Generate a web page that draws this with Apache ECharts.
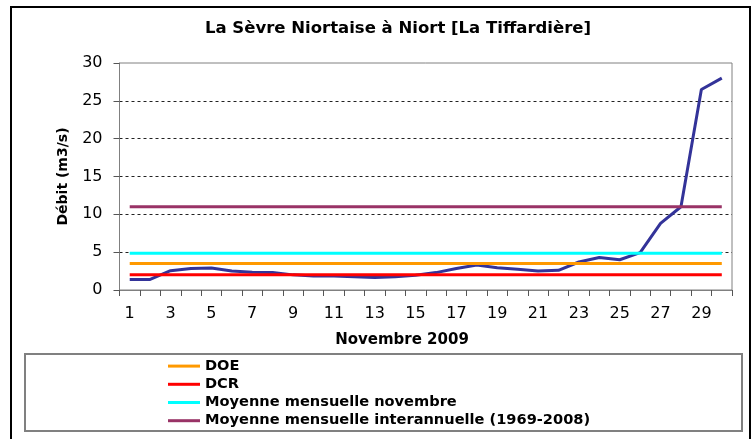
<!DOCTYPE html>
<html lang="fr">
<head>
    <meta charset="UTF-8">
    <title>La Sèvre Niortaise à Niort</title>
    <script src="https://cdn.jsdelivr.net/npm/echarts@6/dist/echarts.min.js"></script>
    <style>
        html, body { margin: 0; padding: 0; background: #fff; }
        #main { width: 752px; height: 439px; }
    </style>
</head>
<body>
<div id="main"></div>
<script type="text/javascript">
    // jours de novembre 2009
    var days = ['1', '2', '3', '4', '5', '6', '7', '8', '9', '10',
        '11', '12', '13', '14', '15', '16', '17', '18', '19', '20',
        '21', '22', '23', '24', '25', '26', '27', '28', '29', '30'];
    // débit journalier (m3/s)
    var debit = [1.4, 1.4, 2.55, 2.85, 2.9, 2.5, 2.35, 2.3, 2.0, 1.85,
        1.85, 1.75, 1.65, 1.75, 1.95, 2.3, 2.85, 3.3, 2.95, 2.75,
        2.5, 2.6, 3.7, 4.3, 4.0, 4.95, 8.8, 11.0, 26.5, 28.0];
    // valeurs de référence
    var DOE = 3.5;
    var DCR = 2.0;
    var moyNov = 4.85;
    var moyInter = 11.0;
    var yTicks = [0, 5, 10, 15, 20, 25, 30];

    var font = 'DejaVu Sans, Liberation Sans, Arial, sans-serif';

    function refLine(name, val, color) {
        return {
            name: name,
            type: 'line',
            data: [[days[0], val], [days[days.length - 1], val]],
            symbol: 'none',
            lineStyle: {color: color, width: 3},
            itemStyle: {color: color},
            z: 3
        };
    }

    var myChart = echarts.init(document.getElementById('main'));
    var option = {
        backgroundColor: '#fff',
        animation: false,
        title: {
            text: 'La Sèvre Niortaise à Niort [La Tiffardière]',
            left: 393,
            top: 15,
            textAlign: 'center',
            textStyle: {fontFamily: font, fontSize: 16.5, fontWeight: 'bold', color: '#000'}
        },
        legend: {
            orient: 'vertical',
            left: 163,
            top: 352,
            itemGap: 0,
            itemWidth: 32,
            itemHeight: 3,
            icon: 'rect',
            data: ['DOE', 'DCR', 'Moyenne mensuelle novembre', 'Moyenne mensuelle interannuelle (1969-2008)'],
            textStyle: {fontFamily: font, fontSize: 14.6, fontWeight: 'bold', color: '#000', lineHeight: 18.2}
        },
        grid: {
            left: 119.5,
            right: 20,
            top: 63,
            bottom: 149,
            show: true,
            borderColor: '#808080',
            borderWidth: 1,
            backgroundColor: '#fff'
        },
        xAxis: {
            type: 'category',
            data: days,
            boundaryGap: true,
            axisLine: {lineStyle: {color: '#808080', width: 1}},
            axisTick: {show: true, interval: 0, length: 6, lineStyle: {color: '#555'}},
            axisLabel: {interval: 1, margin: 16, fontFamily: font, fontSize: 16, color: '#000'},
            splitLine: {show: false}
        },
        yAxis: {
            type: 'value',
            min: yTicks[0],
            max: yTicks[yTicks.length - 1],
            interval: 5,
            name: 'Débit (m3/s)',
            nameLocation: 'middle',
            nameGap: 49,
            nameRotate: 90,
            nameTextStyle: {fontFamily: font, fontSize: 14, fontWeight: 'bold', color: '#000'},
            axisLine: {show: true, lineStyle: {color: '#808080', width: 1}},
            axisTick: {show: true, length: 6, lineStyle: {color: '#555'}},
            axisLabel: {margin: 17, fontFamily: font, fontSize: 16, color: '#000'},
            splitLine: {
                show: true,
                lineStyle: {
                    color: ['transparent', '#222', '#222', '#222', '#222', '#222', 'transparent'],
                    type: [3, 3],
                    width: 1
                }
            }
        },
        graphic: [
            {
                type: 'rect',
                shape: {x: 11, y: 7, width: 739, height: 440},
                style: {fill: 'none', stroke: '#000', lineWidth: 2},
                z: 100
            },
            {
                type: 'rect',
                shape: {x: 25, y: 354, width: 717, height: 77},
                style: {fill: 'none', stroke: '#808080', lineWidth: 2},
                z: 100
            },
            {
                type: 'text',
                x: 402,
                y: 340,
                style: {
                    text: 'Novembre 2009',
                    font: 'bold 15px ' + font,
                    fill: '#000',
                    textAlign: 'center',
                    textVerticalAlign: 'middle'
                }
            }
        ],
        series: [
            {
                name: 'Niort',
                type: 'line',
                data: debit,
                symbol: 'none',
                lineStyle: {color: '#333399', width: 3},
                itemStyle: {color: '#333399'},
                z: 2
            },
            refLine('DOE', DOE, '#FF9900'),
            refLine('DCR', DCR, '#FF0000'),
            refLine('Moyenne mensuelle novembre', moyNov, '#00FFFF'),
            refLine('Moyenne mensuelle interannuelle (1969-2008)', moyInter, '#993366')
        ]
    };
    myChart.setOption(option);
</script>
</body>
</html>
